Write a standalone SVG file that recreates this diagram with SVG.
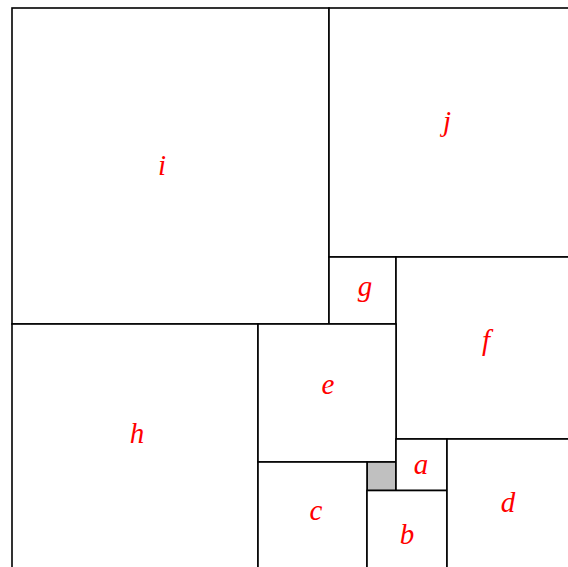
<svg xmlns="http://www.w3.org/2000/svg" width="568" height="567" viewBox="0 0 568 567">
<style>
.sq{fill:#fff;stroke:#000;stroke-width:1.6}
.gray{fill:#c0c0c0;stroke:#000;stroke-width:1.6}
.lb{font-family:"Liberation Serif",serif;font-style:italic;font-size:29px;fill:#ff0000;text-anchor:middle}
</style>
<rect width="568" height="567" fill="#fff"/>
<g id="i"><rect class="sq" x="12" y="8" width="317" height="316"/><text class="lb" x="162" y="175">i</text></g>
<g id="j"><rect class="sq" x="329" y="8" width="250" height="249"/><text class="lb" x="447" y="131">j</text></g>
<g id="g"><rect class="sq" x="329" y="257" width="67" height="67"/><text class="lb" x="365" y="296">g</text></g>
<g id="f"><rect class="sq" x="396" y="257" width="183" height="182"/><text class="lb" x="486" y="350">f</text></g>
<g id="h"><rect class="sq" x="12" y="324" width="246" height="250"/><text class="lb" x="137" y="443">h</text></g>
<g id="e"><rect class="sq" x="258" y="324" width="138" height="138"/><text class="lb" x="328" y="394">e</text></g>
<g id="k"><rect class="gray" x="367" y="462" width="29" height="28.5"/></g>
<g id="a"><rect class="sq" x="396" y="439" width="51" height="51.5"/><text class="lb" x="421" y="474">a</text></g>
<g id="c"><rect class="sq" x="258" y="462" width="109" height="112"/><text class="lb" x="316" y="520">c</text></g>
<g id="b"><rect class="sq" x="367" y="490.5" width="80" height="84"/><text class="lb" x="407" y="544">b</text></g>
<g id="d"><rect class="sq" x="447" y="439" width="132" height="135"/><text class="lb" x="508" y="512">d</text></g>
<g id="connectors"/>
</svg>
